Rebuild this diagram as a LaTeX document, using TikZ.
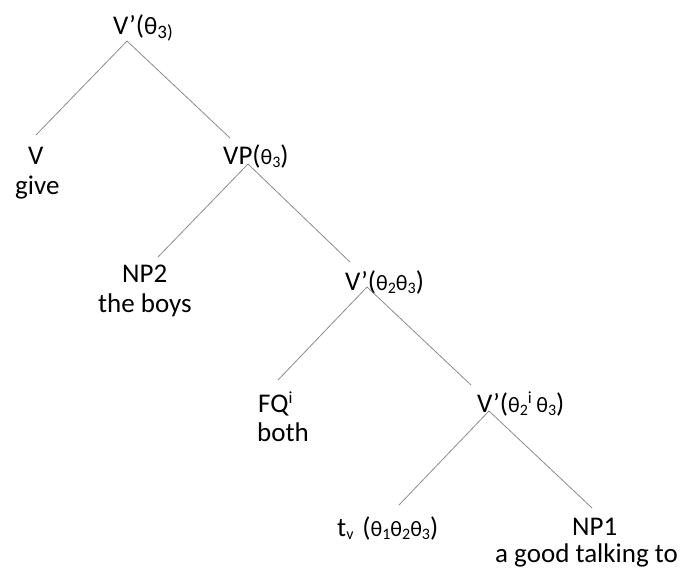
\documentclass[tikz,border=0pt]{standalone}
\usepackage{fontspec}
\setmainfont{Carlito}
\newcommand{\thA}{{\fontsize{25}{25}\selectfont θ}}
\newcommand{\thB}{{\fontsize{22}{22}\selectfont θ}}
\newcommand{\sbA}[1]{\raisebox{-4pt}{\fontsize{19}{19}\selectfont #1}}
\newcommand{\sbB}[1]{\raisebox{-3pt}{\fontsize{16}{16}\selectfont #1}}
\newcommand{\spB}[1]{\raisebox{9pt}{\fontsize{17}{17}\selectfont #1}}
\begin{document}
\begin{tikzpicture}[x=1pt,y=-1pt,
  lbl/.style={anchor=base west,inner sep=0pt,text=black,font=\fontsize{27}{30}\selectfont},
  branch/.style={draw=black!45,line width=0.8pt}]
\useasboundingbox[fill=white] (0,0) rectangle (684,569);
% labels
\node[lbl] (root) at (113,35) {V’(\thA\sbA{3)}};
\node[lbl] (v) at (28,165) {V};
\node[lbl] (give) at (15,195) {give};
\node[lbl] (vp) at (223,165) {VP(\thB\sbB{3})};
\node[lbl] (np2) at (122,282) {NP2};
\node[lbl] (boys) at (98,312) {the boys};
\node[lbl] (vb2) at (345,290) {V’(\thB\sbB{2}\thB\sbB{3})};
\node[lbl] (fq) at (258,412) {FQ\spB{i}};
\node[lbl] (both) at (257,441) {both};
\node[lbl] (vb3) at (477,412) {V’(\thB\sbB{2}\spB{i}\,\thB\sbB{3})};
\node[lbl] (tv) at (337,536) {t\sbB{v}\,\,(\thB\sbB{1}\thB\sbB{2}\thB\sbB{3})};
\node[lbl] (np1) at (572,535) {NP1};
\node[lbl] (talk) at (495,562) {a good talking to};
% attachment points
\coordinate (root-b) at (127,41);
\coordinate (v-t) at (36,135);
\coordinate (vp-t) at (230,138);
\coordinate (vp-b) at (248,164);
\coordinate (np2-t) at (158,257);
\coordinate (vb2-t) at (350,262);
\coordinate (vb2-b) at (367,287);
\coordinate (fq-t) at (278,380);
\coordinate (vb3-t) at (471,385);
\coordinate (vb3-b) at (489,411);
\coordinate (tv-t) at (399,505);
\coordinate (np1-t) at (592,508);
% branches
\draw[branch] (root-b) -- (v-t);
\draw[branch] (root-b) -- (vp-t);
\draw[branch] (vp-b) -- (np2-t);
\draw[branch] (vp-b) -- (vb2-t);
\draw[branch] (vb2-b) -- (fq-t);
\draw[branch] (vb2-b) -- (vb3-t);
\draw[branch] (vb3-b) -- (tv-t);
\draw[branch] (vb3-b) -- (np1-t);
\end{tikzpicture}
\end{document}
